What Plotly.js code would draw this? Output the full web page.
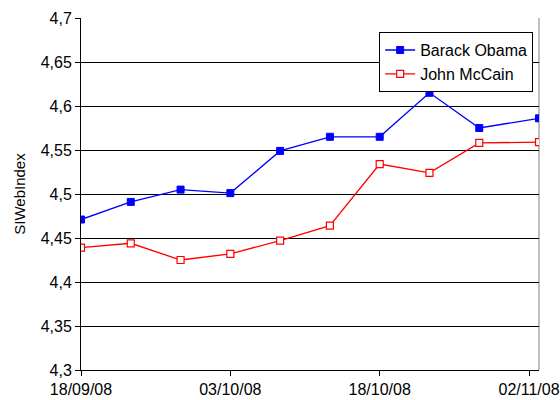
<!DOCTYPE html>
<html>
<head>
<meta charset="utf-8">
<script src="https://cdn.plot.ly/plotly-3.0.1.min.js"></script>
<style>html,body{margin:0;padding:0;background:#fff;}#chart{width:560px;height:400px;}</style>
</head>
<body>
<div id="chart"></div>
<script>
var dates = ["2008-09-18","2008-09-23","2008-09-28","2008-10-03","2008-10-08","2008-10-13","2008-10-18","2008-10-23","2008-10-28","2008-11-03"];
var obama = [4.471, 4.491, 4.505, 4.501, 4.549, 4.565, 4.565, 4.615, 4.575, 4.586];
var mccain = [4.439, 4.444, 4.425, 4.432, 4.447, 4.464, 4.534, 4.524, 4.558, 4.559];
var xTicks = ["2008-09-18","2008-10-03","2008-10-18","2008-11-02"];
var xTickText = ["18/09/08","03/10/08","18/10/08","02/11/08"];
var yTicks = [4.3, 4.35, 4.4, 4.45, 4.5, 4.55, 4.6, 4.65, 4.7];

var font = "Liberation Sans, Arial, sans-serif";
var traces = [
  {x: dates, y: obama, name: "Barack Obama", type: "scatter", mode: "lines+markers",
   line: {color: "#0000ff", width: 1.3},
   marker: {symbol: "square", size: 7, color: "#0000ff", line: {color: "#0000ff", width: 1}}},
  {x: dates, y: mccain, name: "John McCain", type: "scatter", mode: "lines+markers",
   line: {color: "#ff0000", width: 1.3},
   marker: {symbol: "square", size: 7, color: "#ffffff", line: {color: "#ff0000", width: 1.2}}}
];
var layout = {
  width: 560, height: 400,
  margin: {l: 81, r: 21, t: 18, b: 30},
  paper_bgcolor: "#ffffff", plot_bgcolor: "#ffffff",
  separators: ", ",
  font: {family: font, size: 16, color: "#000"},
  showlegend: true,
  legend: {x: 0.651, y: 0.96, xanchor: "left", yanchor: "top",
    bgcolor: "#ffffff", bordercolor: "#000", borderwidth: 1,
    font: {family: font, size: 16, color: "#000"},
    itemwidth: 30, tracegroupgap: 0},
  xaxis: {type: "date", range: ["2008-09-18", "2008-11-03"],
    tickmode: "array", tickvals: xTicks, ticktext: xTickText,
    showgrid: false, zeroline: false,
    showline: true, linecolor: "#000", linewidth: 1,
    ticks: "outside", ticklen: 5, tickcolor: "#000",
    tickfont: {family: font, size: 16, color: "#000"}},
  yaxis: {range: [4.3, 4.7], tickmode: "array", tickvals: yTicks,
    showgrid: true, gridcolor: "#000", gridwidth: 1, zeroline: false,
    showline: true, linecolor: "#000", linewidth: 1,
    ticks: "outside", ticklen: 5, tickcolor: "#000",
    tickfont: {family: font, size: 16, color: "#000"},
    title: {text: "SIWebIndex", font: {family: font, size: 15, color: "#000"}, standoff: 11}},
  shapes: [
    {type: "line", xref: "paper", yref: "paper", x0: 1, x1: 1, y0: 0, y1: 1,
     line: {color: "#c0c0c0", width: 2}, layer: "below"}
  ]
};
Plotly.newPlot("chart", traces, layout, {displayModeBar: false, staticPlot: true});
</script>
</body>
</html>
